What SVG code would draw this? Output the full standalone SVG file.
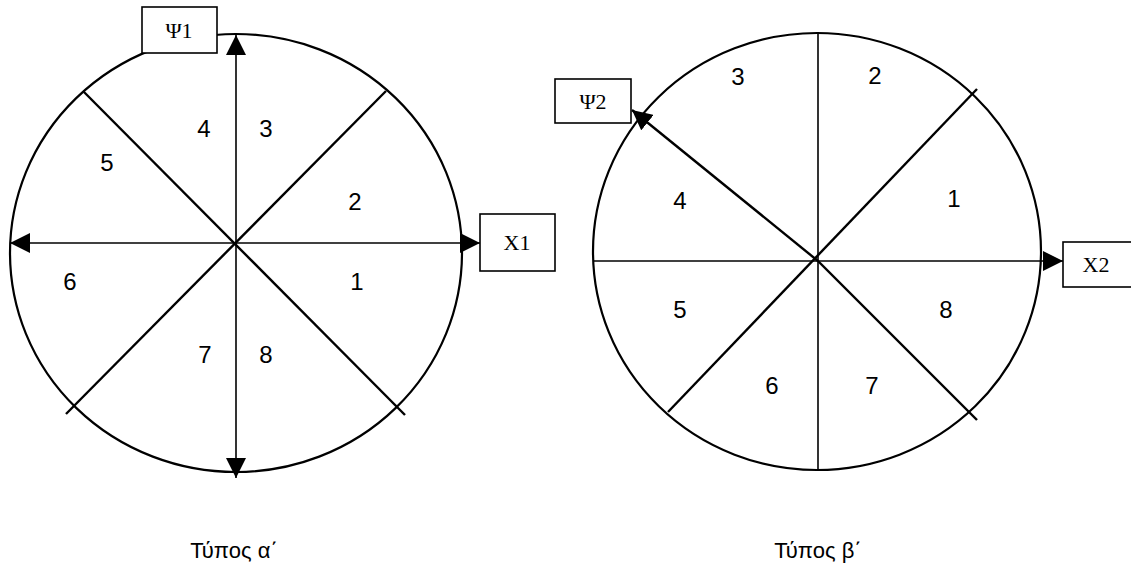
<svg xmlns="http://www.w3.org/2000/svg" width="1131" height="572" viewBox="0 0 1131 572">
<style>
.c{fill:none;stroke:#000;stroke-width:2.2}
.l{stroke:#000;stroke-width:2.4;fill:none}
.t{stroke:#000;stroke-width:1.6;fill:none}
.b{fill:#fff;stroke:#000;stroke-width:1.6}
.n{font-family:"Liberation Sans",Arial,sans-serif;font-size:24px;fill:#000;text-anchor:middle}
.s{font-family:"Liberation Serif","Times New Roman",serif;font-size:22px;fill:#000;text-anchor:middle}
.cap{font-family:"Liberation Sans",Arial,sans-serif;font-size:22px;fill:#000;text-anchor:middle}
</style>
<defs>
<marker id="ah" markerUnits="userSpaceOnUse" markerWidth="20" markerHeight="20" refX="20" refY="10" orient="auto">
<path d="M0,0 L20,10 L0,20 z" fill="#000"/>
</marker>
</defs>
<g id="diagram-a">
<ellipse class="c" cx="236" cy="253" rx="226" ry="219"/>
</g>
<g id="diagram-b">
<ellipse class="c" cx="817" cy="251.5" rx="224" ry="218.5"/>
</g>
<g id="connectors">
<line class="l" x1="83" y1="91" x2="405" y2="415"/>
<line class="l" x1="386" y1="91" x2="66" y2="414"/>
<line class="t" x1="236" y1="242" x2="236" y2="35" marker-end="url(#ah)"/>
<line class="t" x1="236" y1="242" x2="236" y2="478" marker-end="url(#ah)"/>
<line class="t" x1="236" y1="243" x2="10" y2="243" marker-end="url(#ah)"/>
<line class="t" x1="236" y1="243" x2="480" y2="243" marker-end="url(#ah)"/>
<line class="t" x1="818" y1="33" x2="818" y2="470"/>
<line class="t" x1="593" y1="261" x2="1063" y2="261" marker-end="url(#ah)"/>
<line class="l" x1="977" y1="89" x2="668" y2="412"/>
<line class="l" x1="818" y1="261" x2="977" y2="420"/>
<line class="l" x1="818" y1="261" x2="632" y2="110" marker-end="url(#ah)"/>
</g>
<g id="label-psi1">
<rect class="b" x="142" y="7" width="75" height="46"/>
<text class="s" x="179" y="38">Ψ1</text>
</g>
<g id="label-x1">
<rect class="b" x="480" y="214" width="75" height="57"/>
<text class="s" x="517" y="250">X1</text>
</g>
<g id="label-psi2">
<rect class="b" x="555" y="79" width="76" height="44"/>
<text class="s" x="593" y="109">Ψ2</text>
</g>
<g id="label-x2">
<rect class="b" x="1063" y="242" width="80" height="45"/>
<text class="s" x="1096" y="272">X2</text>
</g>
<g id="sectors-a">
<text class="n" x="204" y="137">4</text>
<text class="n" x="266" y="137">3</text>
<text class="n" x="107" y="171">5</text>
<text class="n" x="355" y="210">2</text>
<text class="n" x="70" y="290">6</text>
<text class="n" x="357" y="290">1</text>
<text class="n" x="205" y="363">7</text>
<text class="n" x="266" y="363">8</text>
</g>
<g id="sectors-b">
<text class="n" x="738" y="85">3</text>
<text class="n" x="875" y="84">2</text>
<text class="n" x="954" y="207">1</text>
<text class="n" x="680" y="209">4</text>
<text class="n" x="680" y="318">5</text>
<text class="n" x="946" y="318">8</text>
<text class="n" x="772" y="394">6</text>
<text class="n" x="872" y="394">7</text>
</g>
<g id="captions">
<text class="cap" x="234" y="558">Τύπος α΄</text>
<text class="cap" x="818" y="558">Τύπος β΄</text>
</g>
</svg>
